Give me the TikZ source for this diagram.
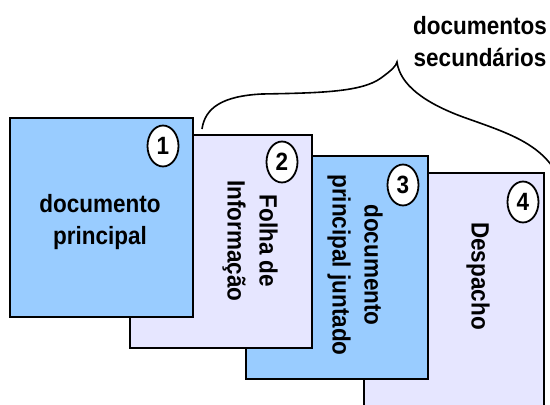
\documentclass[tikz,border=0pt]{standalone}
\usepackage{fontspec}
\setmainfont{Liberation Sans}[FakeStretch=0.9]
\usepackage{tikz}
\usetikzlibrary{shapes,positioning}
\definecolor{docblue}{RGB}{153, 204, 255}
\definecolor{doclilac}{RGB}{230, 230, 255}

\begin{document}
\begin{tikzpicture}[
    x=1pt, y=-1pt,
    every node/.style={align=center, font=\bfseries\fontsize{25}{32}\selectfont},
    mainsheet/.style={rectangle, anchor=north west, minimum width=182pt, inner sep=0pt, draw=black, fill=docblue, line width=1.8pt},
    sidesheet/.style={mainsheet, fill=doclilac},
    num/.style={ellipse, minimum width=31pt, minimum height=41pt, inner sep=0pt, draw=black, fill=white, line width=1.8pt},
    brace/.style={line width=1.6pt}
]
\useasboundingbox (0,0) rectangle (550,405);

% Sheet 4
\node[sidesheet, minimum width=180pt, minimum height=250pt] (doc4) at (363,172) {};
\node[num] (n4) at (523,202) {4};
\node[rotate=-90] (t4) at (478,276) {Despacho};

% Sheet 3
\node[mainsheet, minimum height=223pt] (doc3) at (245,155) {};
\node[num] (n3) at (403,185) {3};
\node[rotate=-90] (t3) at (355,265) {documento\\principal juntado};

% Sheet 2
\node[sidesheet, minimum height=213pt] (doc2) at (129,134) {};
\node[num] (n2) at (282,162) {2};
\node[rotate=-90] (t2) at (250,241) {Folha de\\Informação};

% Sheet 1
\node[mainsheet, minimum width=183pt, minimum height=199pt] (doc1) at (9,117) {};
\node[num] (n1) at (163,146) {1};
\node (t1) at (100,222) {documento\\principal};

% Brace over the secondary sheets
\coordinate (bl) at (202,129);
\coordinate (btip) at (397,62);
\coordinate (br) at (556,172);
\draw[brace] (bl) .. controls (205,108) and (222,96) .. (262,94)
    .. controls (320,93) and (362,92) .. (381,78)
    .. controls (392,70) and (396,66) .. (btip)
    .. controls (400,85) and (425,103) .. (463,117)
    .. controls (505,132) and (538,142) .. (br);
\node (top) at (480,42) {documentos\\secundários};

\end{tikzpicture}
\end{document}
